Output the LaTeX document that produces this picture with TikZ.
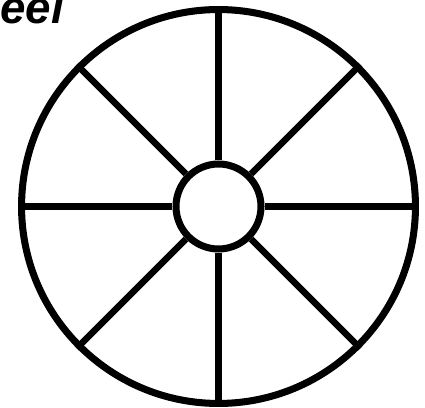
\documentclass[tikz,border=0pt]{standalone}
\usepackage{fontspec}
\setsansfont{Liberation Sans}
\usetikzlibrary{positioning}
\tikzset{
  wheelpart/.style={draw, circle, line width=4pt, inner sep=0pt},
  rim/.style={wheelpart, minimum size=7.88cm},
  hub/.style={wheelpart, minimum size=1.7cm},
  spoke/.style={line width=3.8pt, line cap=butt},
  caption/.style={font=\sffamily\bfseries\itshape\fontsize{26}{28}\selectfont, inner sep=0pt, anchor=base west}
}
\begin{document}
\begin{tikzpicture}[x=0.02cm, y=-0.02cm]
  \useasboundingbox (0,0) rectangle (425,408);
  \node[caption] (title) at (0,24) {eel};
  \node[rim] (rim) at (218.5,206.5) {};
  \node[hub] (hub) at (rim.center) {};
  % spokes go from hub to rim
  \foreach \a in {0,45,...,315}
    \draw[spoke] (hub.\a) -- (rim.\a);
\end{tikzpicture}
\end{document}
